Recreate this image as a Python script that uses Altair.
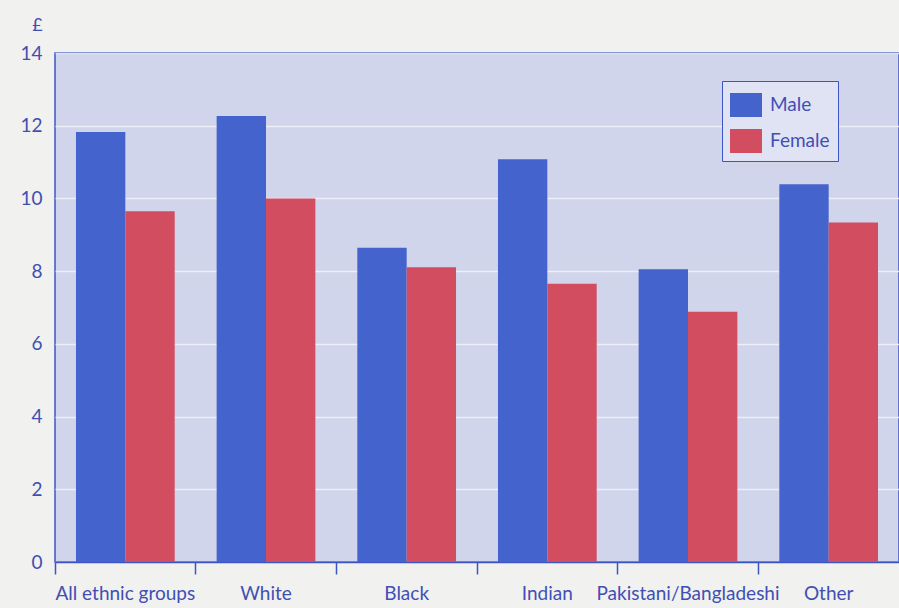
import altair as alt
import pandas as pd

# Hourly earnings (£) by ethnic group and sex
groups = ["All ethnic groups", "White", "Black", "Indian", "Pakistani/Bangladeshi", "Other"]
male = [11.83, 12.27, 8.64, 11.08, 8.05, 10.39]
female = [9.65, 10.0, 8.11, 7.65, 6.88, 9.34]
sexes = ["Male", "Female"]

rows = []
for g, m, f in zip(groups, male, female):
    rows.append({"group": g, "sex": "Male", "pay": m})
    rows.append({"group": g, "sex": "Female", "pay": f})
df = pd.DataFrame(rows)

BLUE_TEXT = "#3f4fb4"
LINE_BLUE = "#3d55c4"
FONT = "Lato"

plot_w = 844

bars = alt.Chart(df).mark_bar(opacity=1).encode(
    x=alt.X(
        "group:N",
        sort=groups,
        scale=alt.Scale(paddingInner=0, paddingOuter=0),
        axis=alt.Axis(
            title=None,
            bandPosition=0,
            labelAngle=0,
            labelFont=FONT,
            labelFontSize=19,
            labelColor=BLUE_TEXT,
            labelPadding=10,
            labelLimit=400,
            labelOverlap=False,
            tickSize=12,
            tickColor=LINE_BLUE,
            tickWidth=1.5,
            domainColor=LINE_BLUE,
            domainWidth=1.5,
            grid=False,
        ),
    ),
    xOffset=alt.XOffset(
        "sex:N",
        sort=sexes,
        scale=alt.Scale(paddingInner=0, paddingOuter=0.425),
    ),
    y=alt.Y(
        "pay:Q",
        scale=alt.Scale(domain=[0, 14], nice=False),
        axis=alt.Axis(
            title="£",
            titleAngle=0,
            titleAlign="center",
            titleBaseline="alphabetic",
            titleX=-18,
            titleY=-23,
            titleFont=FONT,
            titleFontSize=18,
            titleFontWeight="normal",
            titleColor=BLUE_TEXT,
            values=[0, 2, 4, 6, 8, 10, 12, 14],
            labelFont=FONT,
            labelFontSize=19,
            labelColor=BLUE_TEXT,
            labelPadding=13,
            ticks=False,
            domain=False,
            gridColor="#f2f3f8",
            gridWidth=1.5,
            gridOpacity=0.85,
        ),
    ),
    color=alt.Color(
        "sex:N",
        sort=sexes,
        scale=alt.Scale(domain=sexes, range=["#4563cc", "#d24d5f"]),
        legend=alt.Legend(
            title=None,
            orient="none",
            legendX=667,
            legendY=28,
            direction="vertical",
            fillColor="#dfe3f4",
            strokeColor=LINE_BLUE,
            padding=8,
            rowPadding=8,
            symbolType="M-1,-0.75H1V0.75H-1Z",
            symbolSize=1024,
            symbolStrokeWidth=0,
            symbolOpacity=1,
            labelFont=FONT,
            labelFontSize=19,
            labelColor=BLUE_TEXT,
            labelOffset=8,
        ),
    ),
)

chart = (
    bars.properties(
        width=plot_w,
        height=509,
        autosize=alt.AutoSizeParams(type="none"),
        padding={"left": 55, "top": 53, "right": 0, "bottom": 46},
        background="#f1f1ef",
    )
    .configure_view(fill="#d0d5ec", stroke=LINE_BLUE, strokeWidth=1.5)
)

chart.save("out.html", embed_options={"renderer": "svg", "actions": False})
